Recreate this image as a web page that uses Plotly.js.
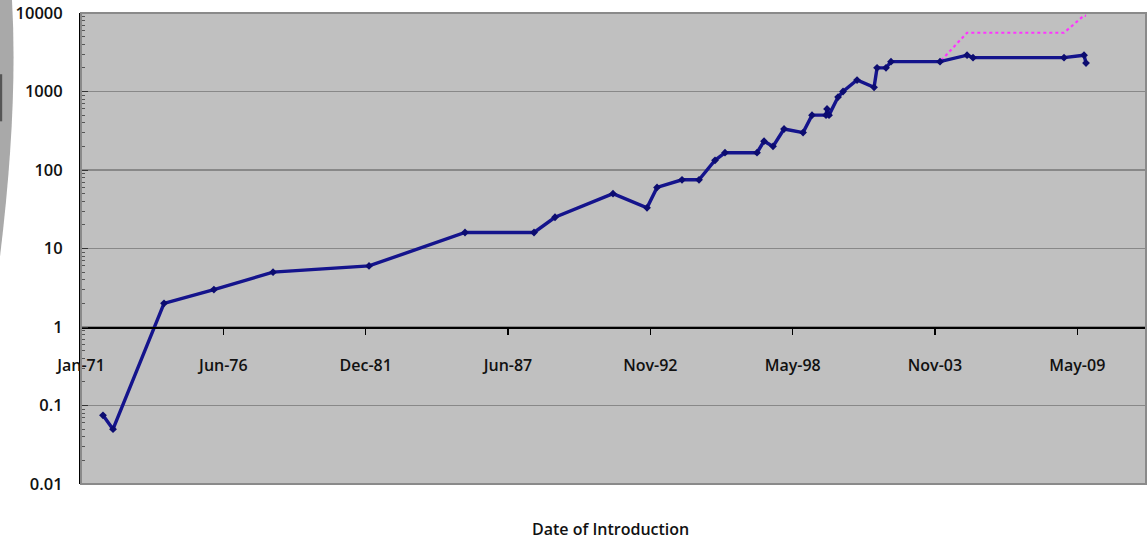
<!DOCTYPE html>
<html>
<head>
<meta charset="utf-8">
<script src="https://cdn.plot.ly/plotly-3.0.1.min.js"></script>
<style>
  html, body { margin: 0; padding: 0; background: #ffffff; }
  #chart { width: 1148px; height: 539px; }
</style>
</head>
<body>
<div id="chart"></div>
<script>
// ---- data ----
const introDates = [
  "1971-11-06", "1972-03-26", "1974-03-13", "1976-02-12", "1978-05-23",
  "1982-01-31", "1985-10-11", "1988-06-07", "1989-03-29", "1991-06-22",
  "1992-10-12", "1993-03-02", "1994-02-16", "1994-10-13", "1995-05-26",
  "1995-10-13", "1997-01-05", "1997-04-14", "1997-08-18", "1998-01-20",
  "1998-10-14", "1999-02-17", "1999-09-02", "1999-09-16", "1999-10-14",
  "2000-02-18", "2000-04-28", "2000-11-11", "2001-07-08", "2001-08-19",
  "2001-12-23", "2002-03-03", "2004-01-21", "2005-02-04", "2005-04-29",
  "2008-10-29", "2009-08-06", "2009-09-03"
];
const clockSpeed = [
  0.075, 0.05, 2, 3, 5,
  6, 16, 16, 25, 50,
  33, 60, 75, 75, 133,
  166, 166, 233, 200, 333,
  300, 500, 500, 600, 500,
  850, 1000, 1400, 1130, 2000,
  2000, 2400, 2400, 2900, 2700,
  2700, 2900, 2300
];
const effectiveSpeed = [
  0.075, 0.05, 2, 3, 5,
  6, 16, 16, 25, 50,
  33, 60, 75, 75, 133,
  166, 166, 233, 200, 333,
  300, 500, 500, 600, 500,
  850, 1000, 1400, 1130, 2000,
  2000, 2400, 2400, 5600, 5600,
  5600, 9300, 9200
];
const xTickDates = ["1971-01-01", "1976-06-24", "1981-12-15", "1987-06-07",
                    "1992-11-28", "1998-05-21", "2003-11-11", "2009-05-03"];
const xTickLabels = ["Jan-71", "Jun-76", "Dec-81", "Jun-87", "Nov-92", "May-98", "Nov-03", "May-09"];
const yTickValues = [0.01, 0.1, 1, 10, 100, 1000, 10000];
const yTickLabels = ["0.01", "0.1", "1", "10", "100", "1000", "10000"];
const xAxisTitle = "Date of Introduction";

// minor tick positions of the log axis (2..9 in every decade)
const minorTickPositions = [];
for (let k = 0; k < yTickValues.length - 1; k++) {
  for (let m = 2; m <= 9; m++) minorTickPositions.push(yTickValues[k] * m);
}

// ---- chart ----
const fontFamily = "'Open Sans', 'DejaVu Sans', sans-serif";

const traces = [
  {
    x: introDates, y: effectiveSpeed, type: "scatter", mode: "lines",
    line: { color: "#ff33ff", width: 2.2, dash: "dot" },
    hoverinfo: "skip", showlegend: false
  },
  {
    x: introDates, y: clockSpeed, type: "scatter", mode: "lines+markers",
    line: { color: "#14148c", width: 3.4 },
    marker: { symbol: "diamond", size: 6, color: "#0c0c70" },
    showlegend: false
  }
];

const layout = {
  width: 1148, height: 539,
  margin: { l: 81, r: 2, t: 13, b: 55 },
  paper_bgcolor: "#ffffff",
  plot_bgcolor: "#c0c0c0",
  showlegend: false,
  font: { family: fontFamily, size: 16, color: "#111111" },
  xaxis: {
    type: "date",
    range: ["1971-01-01", "2011-12-25"],
    tickvals: xTickDates, ticktext: xTickLabels,
    anchor: "free", position: 1 / 3,
    showline: true, linecolor: "#000000", linewidth: 1.5,
    showgrid: false, zeroline: false,
    ticks: "outside", ticklen: 6, tickwidth: 1.2, tickcolor: "#000000",
    ticklabelstandoff: 17,
    tickfont: { family: fontFamily, size: 16, color: "#111111", weight: 600 }
  },
  yaxis: {
    type: "log",
    range: [-2, 4],
    tickvals: yTickValues, ticktext: yTickLabels,
    showline: true, linecolor: "#000000", linewidth: 2,
    showgrid: true, gridcolor: "#888888", gridwidth: 1.5,
    zeroline: false,
    ticks: "inside", ticklen: 7, tickwidth: 1, tickcolor: "#333333",
    minor: { tickmode: "array", tickvals: minorTickPositions, ticks: "inside",
             ticklen: 4, tickwidth: 1, tickcolor: "#555555", showgrid: false },
    ticklabelstandoff: 13,
    tickfont: { family: fontFamily, size: 16.5, color: "#111111", weight: 600 }
  },
  annotations: [
    {
      text: xAxisTitle, xref: "paper", yref: "paper",
      x: 0.4975, y: -0.0955, xanchor: "center", yanchor: "middle",
      showarrow: false,
      font: { family: fontFamily, size: 16, color: "#111111", weight: 600 }
    }
  ],
  shapes: [
    // plot frame (top / right / bottom)
    { type: "rect", xref: "paper", yref: "paper", x0: 0, x1: 1, y0: 0, y1: 1,
      line: { color: "#8a8a8a", width: 2 }, fillcolor: "rgba(0,0,0,0)", layer: "above" },
    // grey crescent on the left edge of the slide
    { type: "path", xref: "paper", yref: "paper",
      path: "M -0.0761,1.0276 L -0.0648,1.0276 Q -0.0590,0.8000 -0.0761,0.4820 Z",
      fillcolor: "#a9a9a9", line: { width: 0 }, layer: "above" },
    { type: "path", xref: "paper", yref: "paper",
      path: "M -0.0761,0.8700 L -0.0740,0.8700 L -0.0740,0.7700 L -0.0761,0.7700 Z",
      fillcolor: "#555555", line: { width: 0 }, layer: "above" }
  ]
};

Plotly.newPlot("chart", traces, layout, { staticPlot: true, displayModeBar: false });
</script>
</body>
</html>
